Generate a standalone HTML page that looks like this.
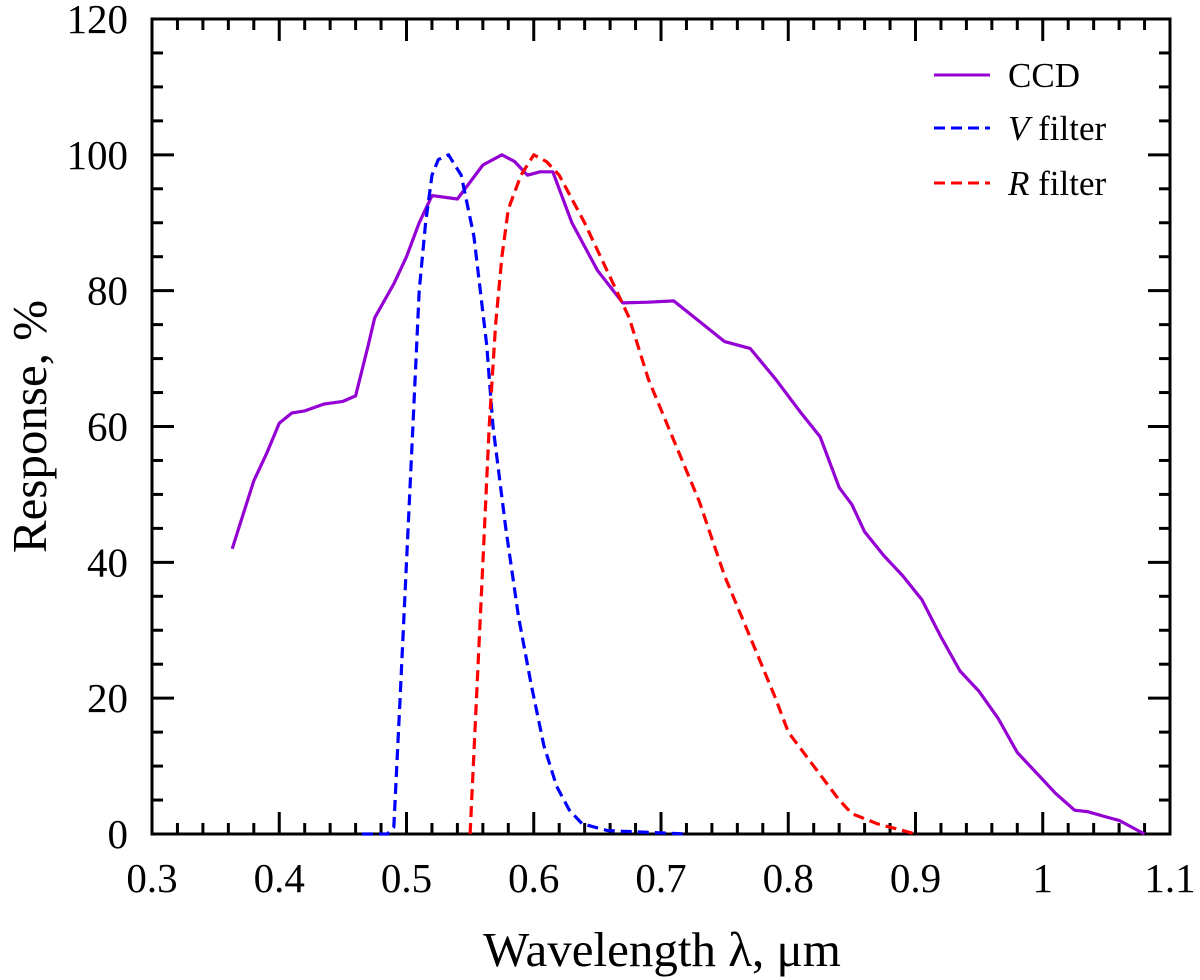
<!DOCTYPE html>
<html><head><meta charset="utf-8"><style>
html,body{margin:0;padding:0;background:#fff;}
svg{display:block;font-family:"Liberation Serif",serif;}
</style></head><body>
<svg id="chart" width="1200" height="980" viewBox="0 0 1200 980"></svg>
<script>
const ccdX=[0.363,0.38,0.39,0.40,0.41,0.42,0.435,0.45,0.46,0.47,0.475,0.49,0.50,0.51,0.52,0.54,0.56,0.575,0.585,0.595,0.605,0.615,0.63,0.65,0.67,0.69,0.71,0.73,0.75,0.77,0.79,0.81,0.825,0.84,0.85,0.86,0.875,0.89,0.905,0.92,0.935,0.95,0.965,0.98,1.0,1.01,1.025,1.035,1.05,1.06,1.075,1.08];
const ccdY=[42,52,56,60.5,62,62.3,63.3,63.7,64.5,72,76,81,85,90,94,93.5,98.5,100,99,97,97.5,97.5,90,83,78.2,78.3,78.5,75.5,72.5,71.5,67,62,58.5,51,48.5,44.5,41,38,34.5,29,24,21,17,12,8,6,3.5,3.3,2.5,2,0.5,0];
const vX=[0.465,0.485,0.49,0.495,0.50,0.505,0.51,0.515,0.52,0.525,0.533,0.543,0.553,0.563,0.568,0.578,0.588,0.598,0.608,0.618,0.628,0.638,0.658,0.72];
const vY=[0,0,1,20,40,60,80,90,97,99.3,100,97,88,72,60,45,32,22,13,7,3.5,1.5,0.5,0];
const rX=[0.55,0.555,0.56,0.565,0.57,0.575,0.58,0.59,0.60,0.61,0.62,0.64,0.66,0.675,0.69,0.71,0.73,0.75,0.77,0.79,0.80,0.82,0.84,0.85,0.87,0.89,0.90];
const rY=[0,20,40,60,75,85,92,97,100,99,97,90,82,76,67,58,49,38,29,20,15,10,5,3,1.5,0.5,0];
const xTicks=[0.3,0.4,0.5,0.6,0.7,0.8,0.9,1,1.1];
const yTicks=[0,20,40,60,80,100,120];

const L=152,R=1170,T=19,B=834;
const X=v=>L+(v-0.3)/0.8*(R-L);
const Y=v=>B-v/120*(B-T);
const svg=document.getElementById('chart');
const NS='http://www.w3.org/2000/svg';
function mk(tag,attrs,parent){const e=document.createElementNS(NS,tag);for(const k in attrs)e.setAttribute(k,attrs[k]);(parent||svg).appendChild(e);return e;}

const tg=mk('g',{stroke:'#000','stroke-width':3});


for(let i=0;i<=40;i++){const v=0.3+i*0.02;const len=(i%5===0)?22:11;const x=X(v);
 mk('line',{x1:x,y1:B,x2:x,y2:B-len},tg);mk('line',{x1:x,y1:T,x2:x,y2:T+len},tg);}
for(let i=0;i<=24;i++){const v=i*5;const len=(i%4===0)?22:11;const y=Y(v);
 mk('line',{x1:L,y1:y,x2:L+len,y2:y},tg);mk('line',{x1:R,y1:y,x2:R-len,y2:y},tg);}

const frame=mk('rect',{x:L,y:T,width:R-L,height:B-T,fill:'none',stroke:'#000','stroke-width':3});



xTicks.forEach(v=>{const t=mk('text',{x:X(v),y:892,'text-anchor':'middle','font-size':41});t.textContent=String(v);
 
 });
yTicks.forEach(v=>{const t=mk('text',{x:L-24,y:Y(v)+14,'text-anchor':'end','font-size':41});t.textContent=String(v);
 
 });

function series(xs,ys,color,dash,name){const d=xs.map((x,i)=>(i?'L':'M')+X(x).toFixed(1)+','+Y(ys[i]).toFixed(1)).join(' ');
 const p=mk('path',{d:d,fill:'none',stroke:color,'stroke-width':3.2,'stroke-dasharray':dash||'none','stroke-linejoin':'round'});
 
 }
series(ccdX,ccdY,'#9400D3',null,'ccd-line');
series(vX,vY,'#0000ff','11,6','v-filter-line');
series(rX,rY,'#ff0000','11,6','r-filter-line');

const xt=mk('text',{x:662,y:966,'text-anchor':'middle','font-size':49});xt.textContent='Wavelength λ, μm';


const yt=mk('text',{x:0,y:0,'text-anchor':'middle','font-size':49,transform:'translate(46,'+((T+B)/2)+') rotate(-90)'});yt.textContent='Response, %';



const leg=[['CCD',null,'#9400D3',null,75],['V',' filter','#0000ff','11,6',128],['R',' filter','#ff0000','11,6',183]];
leg.forEach(l=>{const g=mk('g',{});
 
 
 mk('line',{x1:934,y1:l[4],x2:990,y2:l[4],stroke:l[2],'stroke-width':3,'stroke-dasharray':l[3]||'none'},g);
 const t=mk('text',{x:1008,y:l[4]+12,'font-size':35},g);
 if(l[1]){const i=mk('tspan',{'font-style':'italic'},t);i.textContent=l[0];const s=mk('tspan',{},t);s.textContent=l[1];}
 else t.textContent=l[0];});
</script>
</body></html>
